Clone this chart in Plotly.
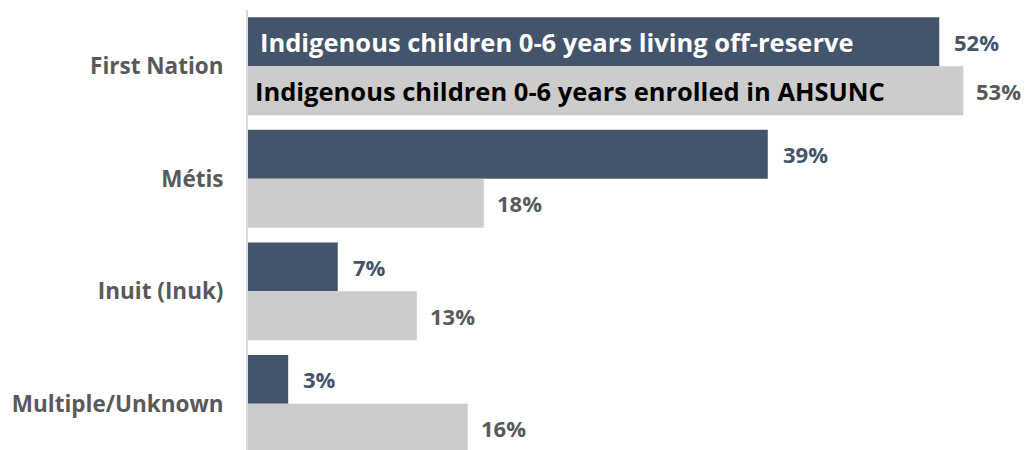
import plotly.graph_objects as go

categories = ["First Nation", "Métis", "Inuit (Inuk)", "Multiple/Unknown"]
off_reserve = [51.6, 38.8, 6.7, 3.0]
ahsunc = [53.4, 17.6, 12.6, 16.4]
series_names = ["Indigenous children 0-6 years living off-reserve",
                "Indigenous children 0-6 years enrolled in AHSUNC"]

DARK = "#44546A"
LIGHT = "#CCCCCC"
FONT = "Open Sans"

fig = go.Figure()
fig.add_trace(go.Bar(y=categories, x=off_reserve, orientation="h", name=series_names[0],
                     marker=dict(color=DARK, line=dict(width=0)), hoverinfo="x+y"))
fig.add_trace(go.Bar(y=categories, x=ahsunc, orientation="h", name=series_names[1],
                     marker=dict(color=LIGHT, line=dict(width=0)), hoverinfo="x+y"))

bargap = 0.13
half = (1 - bargap) / 4
annotations = []
for i, (a, b) in enumerate(zip(off_reserve, ahsunc)):
    annotations.append(dict(x=a, y=i - half, xref="x", yref="y", text=f"{a:.0f}%",
                            showarrow=False, xanchor="left", xshift=13,
                            font=dict(family=FONT, size=22, color=DARK, weight="bold")))
    annotations.append(dict(x=b, y=i + half, xref="x", yref="y", text=f"{b:.0f}%",
                            showarrow=False, xanchor="left", xshift=11,
                            font=dict(family=FONT, size=22, color="#595959", weight="bold")))
annotations.append(dict(x=0, y=0 - half, xref="x", yref="y", text=series_names[0],
                        showarrow=False, xanchor="left", xshift=10,
                        font=dict(family=FONT, size=25.5, color="white", weight="bold")))
annotations.append(dict(x=0, y=0 + half, xref="x", yref="y", text=series_names[1],
                        showarrow=False, xanchor="left", xshift=5,
                        font=dict(family=FONT, size=25.5, color="black", weight="bold")))

fig.update_layout(
    width=1021, height=442,
    margin=dict(l=240, r=0, t=2, b=0),
    barmode="group", bargap=bargap, bargroupgap=0,
    plot_bgcolor="white", paper_bgcolor="white",
    showlegend=False,
    annotations=annotations,
    xaxis=dict(range=[0, 58.3], visible=False, fixedrange=True),
    yaxis=dict(range=[3.41, -0.5], showline=True, linecolor="#D9D9D9", linewidth=2,
               showgrid=False, ticks="", ticklen=0, ticklabelstandoff=18,
               tickfont=dict(family=FONT, size=22.5, color="#595959", weight="bold"),
               zeroline=False),
)

fig.write_html("out.html")
